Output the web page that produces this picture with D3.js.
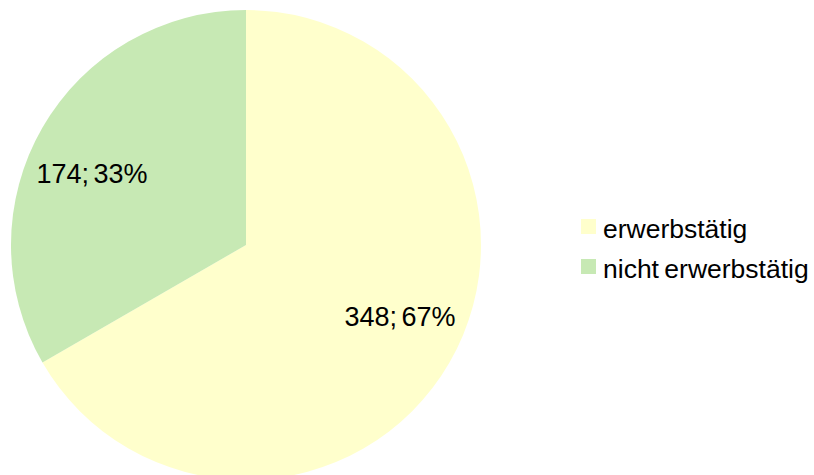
<!DOCTYPE html>
<html>
<head>
<meta charset="utf-8">
<script src="https://cdn.jsdelivr.net/npm/d3@7"></script>
<style>
  html, body { margin: 0; padding: 0; background: #ffffff; }
  svg { display: block; font-family: "Liberation Sans", Arial, sans-serif; }
</style>
</head>
<body>
<svg id="chart" width="814" height="475"></svg>
<script>
const categories = ["erwerbstätig", "nicht erwerbstätig"];
const values = [348, 174];
const percents = ["67%", "33%"];
const colors = ["#FFFFCC", "#C7E9B4"];

const svg = d3.select("#chart");
const cx = 246, cy = 245, r = 235;

const pie = d3.pie().sort(null).value(d => d)(values);
const arc = d3.arc().innerRadius(0).outerRadius(r);

const g = svg.append("g").attr("transform", `translate(${cx},${cy})`);

g.selectAll("path.slice")
  .data(pie)
  .enter().append("path")
  .attr("class", "slice")
  .attr("d", arc)
  .attr("fill", (d, i) => colors[i]);

const labelR = 170;
const shift = -5 * Math.PI / 180;
g.selectAll("text.lbl")
  .data(pie)
  .enter().append("text")
  .attr("class", "lbl")
  .attr("x", d => Math.sin((d.startAngle + d.endAngle) / 2 + shift) * labelR)
  .attr("y", d => -Math.cos((d.startAngle + d.endAngle) / 2 + shift) * labelR)
  .attr("dy", "0.35em")
  .attr("text-anchor", "middle")
  .attr("font-size", "27px")
  .attr("word-spacing", "-3px")
  .attr("fill", "#000")
  .text((d, i) => `${values[i]}; ${percents[i]}`);

const legend = svg.append("g").attr("transform", "translate(581,219)");
const item = legend.selectAll("g.item")
  .data(categories)
  .enter().append("g")
  .attr("class", "item")
  .attr("transform", (d, i) => `translate(0,${i * 40})`);

item.append("rect")
  .attr("width", 15).attr("height", 15)
  .attr("fill", (d, i) => colors[i]);

item.append("text")
  .attr("x", 22)
  .attr("y", 19)
  .attr("font-size", "26.5px")
  .attr("word-spacing", "-2px")
  .attr("fill", "#000")
  .text(d => d);
</script>
</body>
</html>
